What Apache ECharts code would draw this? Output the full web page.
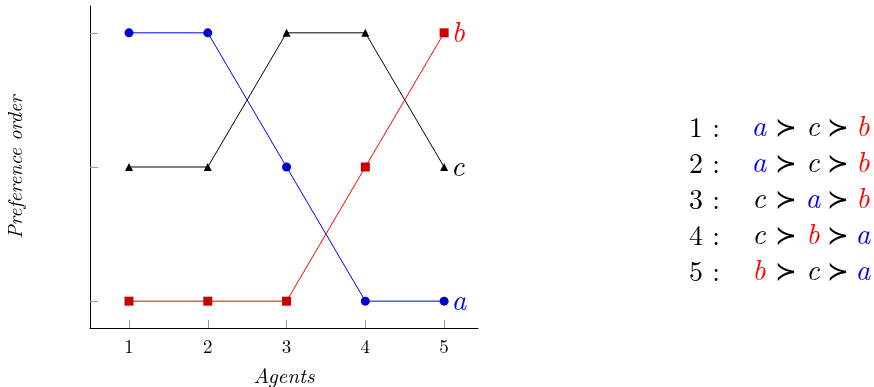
<!DOCTYPE html>
<html><head><meta charset="utf-8">
<script src="https://cdn.jsdelivr.net/npm/echarts@6/dist/echarts.min.js"></script>
<style>html,body{margin:0;padding:0;background:#fff}#c{width:874px;height:387px}</style>
</head><body><div id="c"></div>
<script>
const agents = [1, 2, 3, 4, 5];
const seriesA = [3, 3, 2, 1, 1];
const seriesB = [1, 1, 1, 2, 3];
const seriesC = [2, 2, 3, 3, 2];
const xTicks = [1, 2, 3, 4, 5];
const yTicks = [1, 2, 3];
const orderLabels = ['1', '2', '3', '4', '5'];
const orders = [
  ['a', 'c', 'b'],
  ['a', 'c', 'b'],
  ['c', 'a', 'b'],
  ['c', 'b', 'a'],
  ['b', 'c', 'a']
];

const FONT = '"Latin Modern Roman","Liberation Serif","DejaVu Serif",serif';
const letterColor = { a: '#0000ff', b: '#ff0000', c: '#000000' };

function mk(name, vals, lineColor, markColor, symbol, size) {
  return {
    type: 'line', name: name,
    data: agents.map((x, i) => {
      const d = { value: [x, vals[i]] };
      if (i === agents.length - 1) {
        d.label = { show: true, position: 'right', distance: 3, formatter: name,
          fontFamily: FONT, fontStyle: 'italic', fontSize: 29, color: lineColor };
      }
      return d;
    }),
    symbol: symbol, symbolSize: size,
    itemStyle: { color: markColor },
    lineStyle: { color: lineColor, width: 1 },
    animation: false
  };
}

const graphic = [];
const rowY0 = 128, rowDy = 36;
const colX = [759, 813, 863];
const sepX = [786, 838];
orders.forEach((ord, r) => {
  const y = rowY0 + r * rowDy;
  graphic.push({ type: 'text', x: 689, y: y, style: { text: orderLabels[r] + ' :', font: '28px ' + FONT, fill: '#000', textVerticalAlign: 'middle' } });
  ord.forEach((t, k) => {
    graphic.push({ type: 'text', x: colX[k], y: y - 1, style: { text: t, font: 'italic 29px ' + FONT, fill: letterColor[t], textAlign: 'center', textVerticalAlign: 'middle' } });
  });
  sepX.forEach(sx => {
    graphic.push({ type: 'text', x: sx, y: y, style: { text: '≻', font: '26px ' + FONT, fill: '#000', textAlign: 'center', textVerticalAlign: 'middle' } });
  });
});

const chart = echarts.init(document.getElementById('c'), null, { renderer: 'canvas' });
chart.setOption({
  backgroundColor: '#fff',
  animation: false,
  grid: { left: 90, right: 396, top: 6, bottom: 59, containLabel: false, outerBoundsMode: 'none' },
  xAxis: {
    type: 'value', min: 0.505, max: 5.43,
    name: 'Agents', nameLocation: 'middle', nameGap: 38,
    nameTextStyle: { fontFamily: FONT, fontStyle: 'italic', fontSize: 21, color: '#000' },
    axisLine: { show: true, lineStyle: { color: '#000', width: 1 } },
    axisTick: { show: true, inside: true, length: 8, lineStyle: { color: '#999' }, customValues: xTicks },
    axisLabel: { show: true, customValues: xTicks, fontFamily: FONT, fontSize: 19, color: '#000', margin: 10 },
    splitLine: { show: false }
  },
  yAxis: {
    type: 'value', min: 0.8, max: 3.2,
    name: 'Preference order', nameLocation: 'middle', nameGap: 64, nameRotate: 90,
    nameTextStyle: { fontFamily: FONT, fontStyle: 'italic', fontSize: 20, color: '#000' },
    axisLine: { show: true, lineStyle: { color: '#000', width: 1 } },
    axisTick: { show: true, inside: true, length: 8, lineStyle: { color: '#999' }, customValues: yTicks },
    axisLabel: { show: false },
    splitLine: { show: false }
  },
  series: [
    mk('a', seriesA, '#0000ff', '#0000cc', 'circle', 9),
    mk('c', seriesC, '#000000', '#000000', 'triangle', 8),
    mk('b', seriesB, '#ff0000', '#cc0000', 'rect', 9)
  ],
  graphic: graphic
});
</script></body></html>
